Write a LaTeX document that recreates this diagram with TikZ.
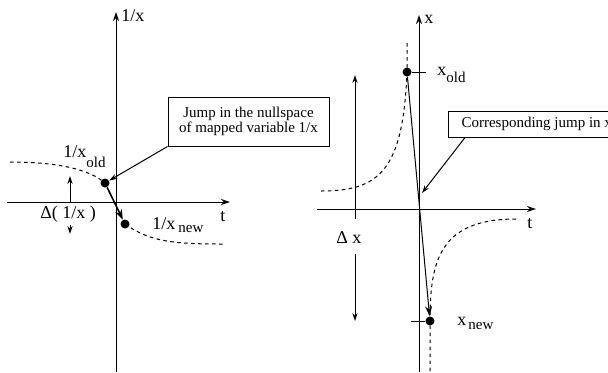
\documentclass[tikz,border=0pt]{standalone}
\usepackage{fontspec}
\setmainfont{Liberation Serif}
\usetikzlibrary{arrows.meta,calc}
\newcommand\dropsub[2]{\raisebox{-#1}{\fontsize{7.5}{8}\selectfont #2}}

\begin{document}
\begin{tikzpicture}[x=0.5pt, y=-0.5pt,
  axis/.style={line width=0.5pt, -{Stealth[length=4.5pt,width=3pt]}},
  curve/.style={line width=0.5pt, dash pattern=on 1.8pt off 1.7pt},
  dot/.style={circle, fill=black, inner sep=0pt, minimum size=4.5pt},
  jump/.style={-{Stealth[length=5pt,width=3.5pt]}},
  lead/.style={line width=0.5pt, -{Stealth[length=4pt,width=2.6pt]}},
  note/.style={draw, line width=0.5pt, font=\fontsize{7.5}{7.2}\selectfont, align=center, inner sep=0pt},
  lab/.style={font=\fontsize{9}{10}\selectfont, inner sep=0pt, anchor=base west}
]
  \useasboundingbox (0,0) rectangle (608,372);
  \clip (0,0) rectangle (608,372);

  % left: mapped variable 1/x
  \draw[axis] (116,372) -- (116,12);
  \draw[axis] (7,202) -- (230,202);
  \node[lab] (axL) at (121,21) {1/x};
  \node[lab] (tL) at (220,221) {t};

  \node[dot] (oldL) at (105,183) {};
  \node[dot] (newL) at (125,224) {};
  \draw[curve] (10,162) .. controls (60,162) and (90,170) .. (oldL.center);
  \draw[curve] (newL.center) .. controls (150,242) and (175,244) .. (223,244);
  \draw[jump, line width=0.8pt] (oldL) -- (newL);

  \node[lab] (oldLabL) at (63,157) {1/x\dropsub{5pt}{old}};
  \node[lab] (newLabL) at (152,229) {1/x\hspace{1.5pt}\dropsub{1.5pt}{new}};

  \node[lab] (dL) at (40,218) {Δ( 1/x )};
  \draw[lead] (70,202) -- (70,176);
  \draw[lead] (70,225) -- (70,234);

  \node[note, minimum width=80.5pt, minimum height=24.5pt] (jumpbox) at (248.5,121.5)
    {Jump in the nullspace\\of mapped variable 1/x};
  \draw[lead] (jumpbox.south west) -- (oldL);

  % right: original variable x
  \draw[axis] (419,372) -- (419,15);
  \draw[axis] (317,209) -- (536,209);
  \node[lab] (axR) at (424,23) {x};
  \node[lab] (tR) at (527,228) {t};

  \node[dot] (oldR) at (407,72) {};
  \node[dot] (newR) at (430,321) {};
  \draw[curve] (407,43) -- (oldR.center) .. controls (403,170) and (380,191) .. (321,191);
  \draw[curve] (516,219) .. controls (440,219) and (430,260) .. (newR.center) -- (430,372);
  \draw (oldR) -- ++(19,0);
  \draw (newR) -- ++(-19,0);
  \draw[jump, line width=0.5pt] (oldR) -- (newR);

  \node[lab] (oldLabR) at (437,75) {x\dropsub{3.5pt}{old}};
  \node[lab] (newLabR) at (457,325) {x\hspace{1pt}\dropsub{2pt}{new}};

  \node[lab] (dR) at (336,243) {Δ x};
  \draw[lead] (355,219) -- (355,75);
  \draw[lead] (355,254) -- (355,321);

  \node[note, anchor=west, inner xsep=6.5pt, minimum height=13pt] (corrbox) at (448,124)
    {Corresponding jump in x};
  \coordinate (jumptip) at (422,193);
  \draw[lead] ($(corrbox.south west)+(17,0)$) -- (jumptip);
\end{tikzpicture}
\end{document}
